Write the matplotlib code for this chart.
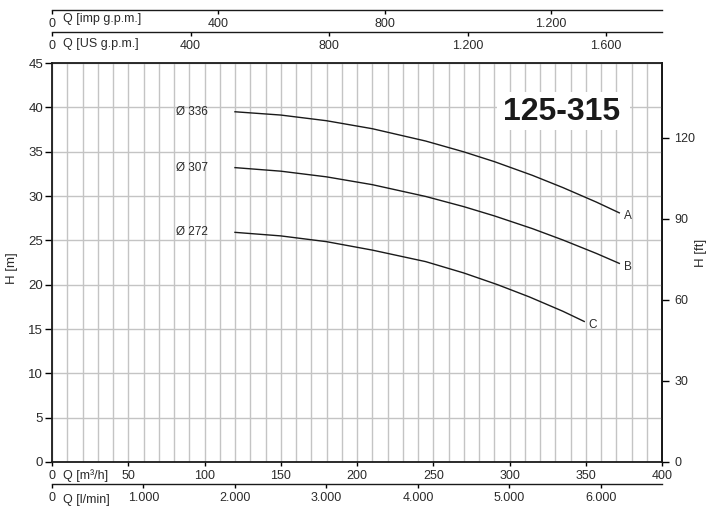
import numpy as np
import matplotlib
matplotlib.use("Agg")
import matplotlib.pyplot as plt
from matplotlib.patches import Rectangle

plt.rcParams['font.family'] = ['Liberation Sans', 'DejaVu Sans']

# pump curves, flow in m3/h, head in m
q_a = [120, 150, 180, 210, 245, 270, 290, 315, 335, 357, 372]
h_a = [39.5, 39.13, 38.49, 37.59, 36.2, 34.98, 33.88, 32.33, 30.95, 29.31, 28.1]
q_b = [120, 150, 180, 210, 245, 270, 290, 315, 335, 357, 372]
h_b = [33.2, 32.8, 32.16, 31.28, 29.95, 28.8, 27.76, 26.32, 25.04, 23.52, 22.4]
q_c = [120, 150, 180, 210, 245, 270, 292, 313, 335, 349]
h_c = [25.9, 25.5, 24.85, 23.9, 22.6, 21.32, 20.01, 18.62, 17.0, 15.85]

curve_names = ['A', 'B', 'C']
impeller_labels = ['Ø 336', 'Ø 307', 'Ø 272']
model = '125-315'

m3h_ticks = [0, 50, 100, 150, 200, 250, 300, 350, 400]
head_ticks = [0, 5, 10, 15, 20, 25, 30, 35, 40, 45]
ft_ticks = [0, 30, 60, 90, 120]
us_ticks = [0, 400, 800, 1200, 1600]
us_labels = ['0', '400', '800', '1.200', '1.600']
imp_ticks = [0, 400, 800, 1200]
imp_labels = ['0', '400', '800', '1.200']
lmin_ticks = [0, 1000, 2000, 3000, 4000, 5000, 6000]
lmin_labels = ['0', '1.000', '2.000', '3.000', '4.000', '5.000', '6.000']

TXT = '#2a2a2a'
GRID = '#c4c4c4'

fig = plt.figure(figsize=(7.09, 5.11), dpi=100)
ax = fig.add_axes([52 / 709, 1 - 462 / 511, 610 / 709, 399 / 511])

ax.set_xlim(0, 400)
ax.set_ylim(0, 45)
ax.set_xticks(m3h_ticks)
ax.set_xticks(np.arange(0, 401, 10), minor=True)
ax.set_yticks(head_ticks)
ax.grid(which='both', axis='x', color=GRID, lw=1.0, zorder=0)
ax.grid(which='major', axis='y', color=GRID, lw=1.0, zorder=0)
ax.set_axisbelow(True)
ax.tick_params(which='minor', length=0)
ax.tick_params(axis='x', direction='out', length=3, width=1, pad=2.5,
               labelsize=9, labelcolor=TXT)
ax.tick_params(axis='y', direction='out', length=5, width=1, pad=1.5,
               labelsize=9.5, labelcolor=TXT)
for s in ax.spines.values():
    s.set_linewidth(1.3)
    s.set_color('#1a1a1a')

# curves
for q, h, name, dia in zip([q_a, q_b, q_c], [h_a, h_b, h_c], curve_names, impeller_labels):
    ax.plot(q, h, color='#1a1a1a', lw=1.0, zorder=3)
    ax.text(q[-1] + 3, h[-1] - 0.4, name, fontsize=8.5, color=TXT,
            ha='left', va='center')
    ax.text(81, h[0], dia, fontsize=8.5, color=TXT, ha='left', va='center')

# model badge
ax.add_patch(Rectangle((0.7295, 0.832), 0.218, 0.095, transform=ax.transAxes,
                       facecolor='white', edgecolor='none', zorder=1))
ax.text(334, 39.45, model, fontsize=23, fontweight='bold', color='#1a1a1a',
        ha='center', va='center', zorder=4)

# unit labels next to the zero ticks
ax.text(7, -1.55, 'Q [m³/h]', fontsize=9, color=TXT, ha='left', va='center',
        clip_on=False)

# right axis in feet
sec_ft = ax.secondary_yaxis('right', functions=(lambda m: m * 3.28084,
                                                 lambda f: f / 3.28084))
sec_ft.set_yticks(ft_ticks)
sec_ft.tick_params(direction='out', length=5, width=1, pad=4,
                   labelsize=9, labelcolor=TXT)
sec_ft.spines['right'].set_linewidth(1.3)

# extra flow scales
def flow_scale(loc, factor, ticks, labels):
    sec = ax.secondary_xaxis(loc, functions=(lambda x: x * factor,
                                             lambda x: x / factor))
    sec.set_alignment('bottom')
    sec.set_xticks(ticks, labels=labels)
    sec.tick_params(direction='out', length=3, width=1, pad=2.5,
                    labelsize=9, labelcolor=TXT)
    sec.spines['bottom'].set_linewidth(1.0)
    sec.spines['bottom'].set_color('#1a1a1a')
    return sec

flow_scale(1.0777, 4.40287, us_ticks, us_labels)
flow_scale(1.1328, 3.66615, imp_ticks, imp_labels)
flow_scale(-0.0559, 16.6667, lmin_ticks, lmin_labels)

ax.text(7, 47.1, 'Q [US g.p.m.]', fontsize=9, color=TXT, ha='left',
        va='center', clip_on=False)
ax.text(7, 50.0, 'Q [imp g.p.m.]', fontsize=9, color=TXT, ha='left',
        va='center', clip_on=False)
ax.text(7, -4.3, 'Q [l/min]', fontsize=9, color=TXT, ha='left',
        va='center', clip_on=False)

fig.text(12 / 709, 1 - 268 / 511, 'H [m]', rotation=90, fontsize=9.5,
         color=TXT, ha='center', va='center')
fig.text(701 / 709, 1 - 253 / 511, 'H [ft]', rotation=90, fontsize=9.5,
         color=TXT, ha='center', va='center')

fig.savefig('out.png', dpi=100, facecolor='white')
